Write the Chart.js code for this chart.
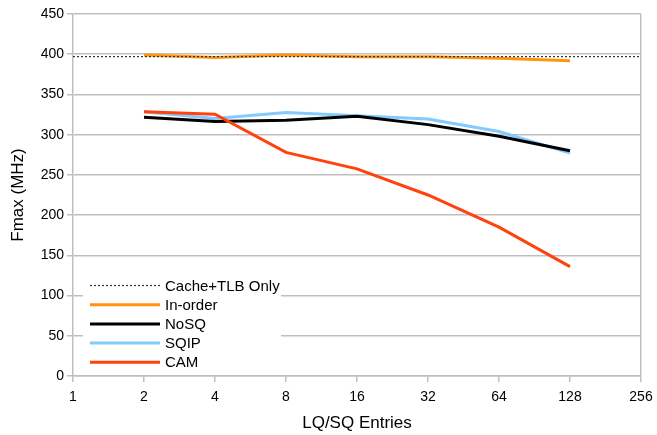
<!DOCTYPE html>
<html>
<head>
<meta charset="utf-8">
<script src="https://cdn.jsdelivr.net/npm/chart.js@4/dist/chart.umd.min.js"></script>
<style>
html,body{margin:0;padding:0;background:#fff;}
#wrap{width:657px;height:435px;position:relative;}
</style>
</head>
<body>
<div id="wrap"><canvas id="c" width="657" height="435"></canvas></div>
<script>
const entries = [2, 4, 8, 16, 32, 64, 128];
const xTicks = [1, 2, 4, 8, 16, 32, 64, 128, 256];
const cacheTlbX = [1, 256];
const cacheTlb = [397, 397];
const inOrder = [399, 396, 399, 397, 397, 395, 392];
const noSQ = [321.5, 316.5, 318, 323, 312.5, 298, 280];
const sqip = [328.5, 320, 327.5, 323.5, 319.5, 304, 277];
const cam = [328.5, 325.5, 278, 257.5, 225, 185, 136];

const FONT = "'Liberation Sans', Arial, sans-serif";
const GRID = '#bfbfbf';

function pts(xs, ys){ return xs.map((x,i)=>({x:x, y:ys[i]})); }

const legendPlugin = {
  id: 'customLegend',
  afterDatasetsDraw(chart){
    const ctx = chart.ctx;
    const ds = chart.data.datasets;
    ctx.save();
    ctx.fillStyle = '#ffffff';
    ctx.fillRect(83, 276, 198, 96);
    const x0 = 90, x1 = 160, tx = 165;
    let y = 285.5;
    ctx.font = '15px ' + FONT;
    ctx.textBaseline = 'middle';
    ctx.textAlign = 'left';
    ds.forEach(d => {
      ctx.beginPath();
      ctx.strokeStyle = d.borderColor;
      ctx.lineWidth = d.borderWidth;
      ctx.setLineDash(d.borderDash || []);
      ctx.moveTo(x0, y); ctx.lineTo(x1, y);
      ctx.stroke();
      ctx.setLineDash([]);
      ctx.fillStyle = '#000';
      ctx.fillText(d.label, tx, y + 1);
      y += 19.2;
    });
    ctx.restore();
  }
};

new Chart(document.getElementById('c'), {
  type: 'line',
  data: {
    datasets: [
      {label:'Cache+TLB Only', data: pts(cacheTlbX, cacheTlb), borderColor:'#333333', borderWidth:1.2, borderDash:[2,2], pointRadius:0, order:0},
      {label:'In-order', data: pts(entries, inOrder), borderColor:'#ff950e', borderWidth:3, pointRadius:0, order:4},
      {label:'NoSQ', data: pts(entries, noSQ), borderColor:'#000000', borderWidth:3, pointRadius:0, order:2},
      {label:'SQIP', data: pts(entries, sqip), borderColor:'#83caff', borderWidth:3, pointRadius:0, order:3},
      {label:'CAM', data: pts(entries, cam), borderColor:'#ff420e', borderWidth:3, pointRadius:0, order:1}
    ]
  },
  options: {
    responsive: false,
    animation: false,
    layout: {padding: {left: 0, right: 16, top: 14, bottom: 0}},
    plugins: {legend: {display: false}, tooltip: {enabled: false}},
    elements: {line: {tension: 0}},
    scales: {
      x: {
        type: 'logarithmic',
        min: 1, max: 256,
        afterBuildTicks: s => { s.ticks = xTicks.map(v => ({value: v})); },
        afterFit: s => { s.height = 59; s.paddingRight = 0; s.paddingLeft = 0; },
        ticks: {
          color: '#000', font: {family: FONT, size: 14}, padding: 7,
          callback: v => String(v), autoSkip: false, maxRotation: 0
        },
        grid: {
          color: c => (c.tick && c.tick.value === 256) ? GRID : 'rgba(0,0,0,0)',
          tickColor: GRID, tickLength: 6, lineWidth: 1.5, drawOnChartArea: true
        },
        border: {color: GRID, width: 1.5},
        title: {display: true, text: 'LQ/SQ Entries', color: '#000', font: {family: FONT, size: 17}, padding: {top: 2, bottom: 1}}
      },
      y: {
        min: 0, max: 450,
        afterFit: s => { s.width = 73; },
        ticks: {stepSize: 50, color: '#000', font: {family: FONT, size: 14}, padding: 3},
        grid: {color: GRID, lineWidth: 1.5, tickLength: 6, tickColor: GRID},
        border: {color: GRID, width: 1.5},
        title: {display: true, text: 'Fmax (MHz)', color: '#000', font: {family: FONT, size: 17}, padding: {top: 8, bottom: 2}}
      }
    }
  },
  plugins: [legendPlugin]
});
</script>
</body>
</html>
